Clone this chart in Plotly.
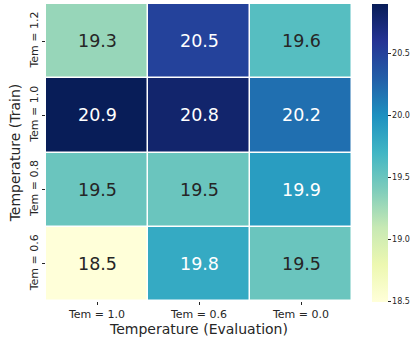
import plotly.graph_objects as go
import numpy as np

eval_labels = ["Tem = 1.0", "Tem = 0.6", "Tem = 0.0"]
train_labels = ["Tem = 0.6", "Tem = 0.8", "Tem = 1.0", "Tem = 1.2"]  # bottom to top
values = [
    [18.5, 19.8, 19.5],  # Tem = 0.6
    [19.5, 19.5, 19.9],  # Tem = 0.8
    [20.9, 20.8, 20.2],  # Tem = 1.0
    [19.3, 20.5, 19.6],  # Tem = 1.2
]
cbar_ticks = [18.5, 19.0, 19.5, 20.0, 20.5]

zmin, zmax = 18.5, 20.9
ylgnbu = ["#ffffd9", "#edf8b1", "#c7e9b4", "#7fcdbb", "#41b6c4",
          "#1d91c0", "#225ea8", "#253494", "#081d58"]
colorscale = [[i / (len(ylgnbu) - 1), c] for i, c in enumerate(ylgnbu)]


def hex2rgb(h):
    h = h.lstrip("#")
    return np.array([int(h[i:i + 2], 16) for i in (0, 2, 4)]) / 255.0


def color_at(v):
    t = min(max((v - zmin) / (zmax - zmin), 0), 1) * (len(ylgnbu) - 1)
    i = min(int(t), len(ylgnbu) - 2)
    f = t - i
    return hex2rgb(ylgnbu[i]) * (1 - f) + hex2rgb(ylgnbu[i + 1]) * f


def luminance(rgb):
    c = np.where(rgb <= 0.03928, rgb / 12.92, ((rgb + 0.055) / 1.055) ** 2.4)
    return 0.2126 * c[0] + 0.7152 * c[1] + 0.0722 * c[2]


W, H = 412, 337
fig = go.Figure(go.Heatmap(
    z=values, x=eval_labels, y=train_labels,
    zmin=zmin, zmax=zmax, colorscale=colorscale,
    xgap=1.5, ygap=1.5, hoverinfo="skip",
    colorbar=dict(
        thickness=16, len=298, lenmode="pixels",
        x=372 / W, xref="container", xanchor="left", xpad=0,
        y=1 - 4 / H, yref="container", yanchor="top", ypad=0,
        tickvals=cbar_ticks, ticktext=[f"{t:.1f}" for t in cbar_ticks],
        ticks="outside", ticklen=3, tickwidth=1, tickcolor="#262626",
        tickfont=dict(size=8, color="#262626"),
        outlinewidth=0,
    ),
))

annotations = []
for yi, ylab in enumerate(train_labels):
    for xi, xlab in enumerate(eval_labels):
        v = values[yi][xi]
        col = "#262626" if luminance(color_at(v)) > 0.408 else "white"
        annotations.append(dict(x=xlab, y=ylab, text=f"{v:.1f}", showarrow=False,
                                font=dict(size=17.5, color=col)))

fig.update_layout(
    template="none",
    width=W, height=H,
    margin=dict(l=46, r=60, t=4, b=36, autoexpand=False),
    paper_bgcolor="white", plot_bgcolor="white",
    font=dict(family="DejaVu Sans", color="#262626"),
    annotations=annotations,
    xaxis=dict(title=dict(text="Temperature (Evaluation)", font=dict(size=14), standoff=0),
               tickfont=dict(size=11), ticks="outside", ticklen=3, tickcolor="#262626",
               showgrid=False, zeroline=False, showline=False, automargin=False),
    yaxis=dict(title=dict(text="Temperature (Train)", font=dict(size=14), standoff=3),
               tickfont=dict(size=11), tickangle=-90, ticks="outside", ticklen=3,
               tickcolor="#262626", showgrid=False, zeroline=False, showline=False,
               automargin=False),
)

fig.write_html("out.html",
               config={"displayModeBar": False},
               post_script="document.body.style.margin='0';document.body.style.overflow='hidden';")
